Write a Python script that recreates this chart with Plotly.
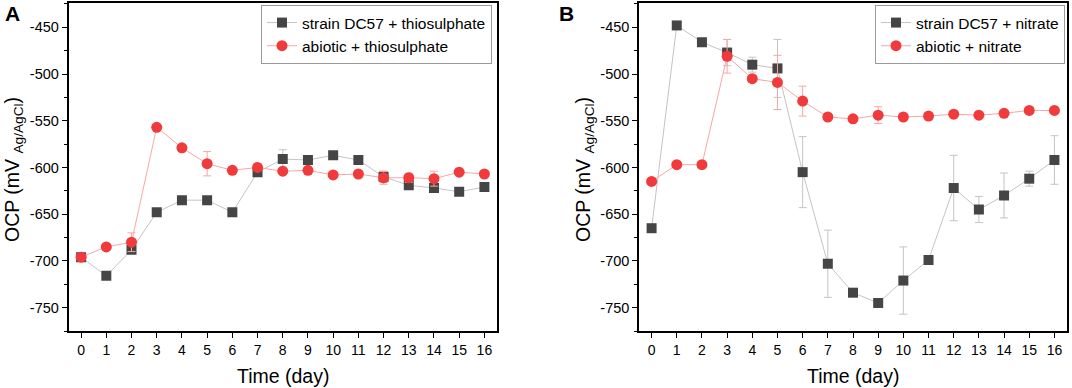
import plotly.graph_objects as go

days = list(range(17))
x_ticks = list(range(17))
y_ticks = [-450, -500, -550, -600, -650, -700, -750]

# Panel A: thiosulphate
a_strain = [-696, -716, -688, -648, -635, -635, -648, -605, -591, -592, -587, -592, -610, -619, -622, -626, -621]
a_strain_err = [0, 0, 0, 0, 0, 0, 0, 0, 10, 0, 0, 0, 6, 0, 0, 0, 0]
a_abiotic = [-696, -685, -680, -557, -579, -596, -603, -600, -604, -603, -608, -607, -611, -611, -612, -605, -607]
a_abiotic_err = [0, 0, 10, 0, 0, 13, 0, 0, 3, 3, 0, 0, 7, 5, 8, 0, 0]

# Panel B: nitrate
b_strain = [-665, -448, -466, -477, -490, -494, -605, -703, -734, -745, -721, -699, -622, -645, -630, -612, -592]
b_strain_err = [0, 0, 0, 14, 8, 31, 38, 36, 0, 0, 36, 2, 35, 14, 24, 8, 26]
b_abiotic = [-615, -597, -597, -481, -505, -509, -529, -546, -548, -544, -546, -545, -543, -544, -542, -539, -539]
b_abiotic_err = [0, 0, 0, 18, 0, 29, 16, 0, 3, 9, 0, 4, 4, 3, 0, 0, 0]

names_a = ["strain DC57 + thiosulphate", "abiotic + thiosulphate"]
names_b = ["strain DC57 + nitrate", "abiotic + nitrate"]

GRAY = "#454545"
GRAY_LINE = "#c4c4c4"
RED = "#f03a3c"
RED_LINE = "#f8a6a6"
FONT = "Liberation Sans, Arial, sans-serif"

W, H = 1072, 388

fig = go.Figure()

def add_pair(xa, ya, legend, names, strain, strain_err, abiotic, abiotic_err):
    fig.add_trace(go.Scatter(
        x=days, y=strain, name=names[0], mode="lines+markers",
        xaxis=xa, yaxis=ya, legend=legend,
        line=dict(color=GRAY_LINE, width=1),
        marker=dict(symbol="square", size=10, color=GRAY),
        error_y=dict(type="data", array=strain_err, color=GRAY_LINE, thickness=1, width=4),
    ))
    fig.add_trace(go.Scatter(
        x=days, y=abiotic, name=names[1], mode="lines+markers",
        xaxis=xa, yaxis=ya, legend=legend,
        line=dict(color=RED_LINE, width=1),
        marker=dict(symbol="circle", size=11, color=RED),
        error_y=dict(type="data", array=abiotic_err, color=RED_LINE, thickness=1, width=4),
    ))

add_pair("x", "y", "legend", names_a, a_strain, a_strain_err, a_abiotic, a_abiotic_err)
add_pair("x2", "y2", "legend2", names_b, b_strain, b_strain_err, b_abiotic, b_abiotic_err)

ydom = [(H - 331) / H, (H - 3) / H]
xdomA = [68.5 / W, 497 / W]
xdomB = [639 / W, 1067 / W]

def xaxis(dom, anchor):
    return dict(
        domain=dom, anchor=anchor, range=[-0.5, 16.5],
        tickmode="array", tickvals=x_ticks, ticktext=[str(t) for t in x_ticks],
        showline=True, linecolor="black", linewidth=1.5, mirror=True,
        ticks="outside", ticklen=5, tickwidth=1, tickcolor="black",
        showgrid=False, zeroline=False,
        tickfont=dict(size=14, color="black", family=FONT),
    )

def yaxis(anchor):
    return dict(
        domain=ydom, anchor=anchor, range=[-775, -424],
        tickmode="array", tickvals=y_ticks, ticktext=[str(t) for t in y_ticks],
        showline=True, linecolor="black", linewidth=1.5, mirror=True,
        ticks="outside", ticklen=5, tickwidth=1, tickcolor="black",
        minor=dict(ticks="outside", ticklen=3, tickwidth=1, tickcolor="black", dtick=25, tick0=-450, showgrid=False),
        showgrid=False, zeroline=False,
        tickfont=dict(size=14.5, color="black", family=FONT),
    )

legend_common = dict(
    bgcolor="white", bordercolor="#9a9a9a", borderwidth=1,
    font=dict(size=15.5, color="black", family=FONT),
    xanchor="right", yanchor="top", y=(H - 5) / H,
    tracegroupgap=0,
)

fig.update_layout(
    width=W, height=H,
    margin=dict(l=0, r=0, t=0, b=0),
    paper_bgcolor="white", plot_bgcolor="white",
    font=dict(family=FONT, color="black"),
    xaxis=xaxis(xdomA, "y"),
    yaxis=yaxis("x"),
    xaxis2=xaxis(xdomB, "y2"),
    yaxis2=yaxis("x2"),
    legend=dict(x=492 / W, **legend_common),
    legend2=dict(x=1065 / W, **legend_common),
)

ytitle = "OCP (mV <sub>Ag/AgCl</sub>)"
annos = [
    dict(text="<b>A</b>", x=12 / W, y=(H - 14) / H, font=dict(size=21)),
    dict(text="<b>B</b>", x=566 / W, y=(H - 14) / H, font=dict(size=21)),
    dict(text="Time (day)", x=(xdomA[0] + xdomA[1]) / 2, y=(H - 376) / H, font=dict(size=19.5)),
    dict(text="Time (day)", x=(xdomB[0] + xdomB[1]) / 2, y=(H - 376) / H, font=dict(size=19.5)),
    dict(text=ytitle, x=13 / W, y=(H - 170) / H, textangle=-90, font=dict(size=19.5)),
    dict(text=ytitle, x=584 / W, y=(H - 170) / H, textangle=-90, font=dict(size=19.5)),
]
for a in annos:
    f = dict(family=FONT, color="black")
    f.update(a.pop("font"))
    fig.add_annotation(xref="paper", yref="paper", showarrow=False,
                       xanchor="center", yanchor="middle", font=f, **a)

fig.write_html(
    "out.html",
    config={"displayModeBar": False},
    post_script="document.body.style.margin='0';document.body.style.overflow='hidden';",
)
